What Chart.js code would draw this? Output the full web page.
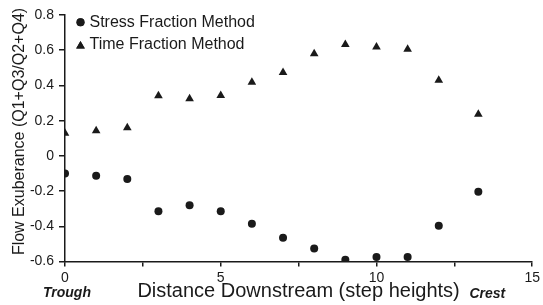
<!DOCTYPE html>
<html><head><meta charset="utf-8">
<script src="https://cdn.jsdelivr.net/npm/chart.js@4/dist/chart.umd.min.js"></script>
<style>html,body{margin:0;padding:0;background:#fff}#w{width:543px;height:305px}</style>
</head><body><div id="w"><canvas id="c"></canvas></div>
<script>
const distance = [0,1,2,3,4,5,6,7,8,9,10,11,12,13.27];
const stressFraction = [-0.10,-0.113,-0.132,-0.314,-0.281,-0.314,-0.386,-0.465,-0.526,-0.59,-0.575,-0.575,-0.397,-0.204];
const timeFraction = [0.128,0.143,0.16,0.342,0.324,0.343,0.418,0.474,0.58,0.633,0.618,0.605,0.43,0.236];
const seriesLabels = ['Stress Fraction Method','Time Fraction Method'];
const xTitle = 'Distance Downstream (step heights)';
const yTitle = 'Flow Exuberance (Q1+Q3/Q2+Q4)';
const endLabels = ['Trough','Crest'];
const endLabelX = [0,13.27];

const ink = '#1a1a1a';
const FONT = 'Liberation Sans, Arial, sans-serif';
const toPts = ys => distance.map((x,i)=>({x, y: ys[i]}));

const overlay = {
  id:'overlay',
  afterDraw(chart){
    const ctx = chart.ctx, xs = chart.scales.x;
    ctx.save();
    // legend
    const items = [{style:'circle', r:4},{style:'triangle', r:5}];
    ctx.font = '16px ' + FONT;
    ctx.textBaseline = 'middle';
    items.forEach((it,i)=>{
      const y = 22.3 + i*22.7, x = 80.5;
      ctx.fillStyle = ink;
      Chart.helpers.drawPoint(ctx,{pointStyle:it.style, radius: it.r, borderWidth:0}, x, it.style==='triangle'? y+1 : y);
      ctx.fill();
      ctx.fillText(seriesLabels[i], 89.5, y);
    });
    // y title
    ctx.save();
    ctx.translate(23.5, 131.5);
    ctx.rotate(-Math.PI/2);
    ctx.textAlign = 'center';
    ctx.textBaseline = 'alphabetic';
    ctx.font = '16px ' + FONT;
    ctx.fillText(yTitle, 0, 0);
    ctx.restore();
    // end labels
    ctx.font = 'italic bold 14px ' + FONT;
    ctx.textAlign = 'center';
    ctx.textBaseline = 'alphabetic';
    ctx.fillText(endLabels[0], xs.getPixelForValue(endLabelX[0]) + 2, 297);
    ctx.fillText(endLabels[1], xs.getPixelForValue(endLabelX[1]) + 9, 297.5);
    ctx.restore();
  }
};

new Chart(document.getElementById('c'), {
  type:'scatter',
  data:{datasets:[
    {label:seriesLabels[0], data:toPts(stressFraction), pointStyle:'circle', pointRadius:4, backgroundColor:ink, borderColor:ink, borderWidth:0},
    {label:seriesLabels[1], data:toPts(timeFraction), pointStyle:'triangle', pointRadius:5, backgroundColor:ink, borderColor:ink, borderWidth:0}
  ]},
  options:{
    responsive:true, maintainAspectRatio:false, animation:false,
    layout:{padding:{left:0,right:8,top:15,bottom:0}},
    plugins:{legend:{display:false}, tooltip:{enabled:false}},
    scales:{
      x:{type:'linear', min:0, max:15,
        afterFit(s){ s.height = 43.5; },
        border:{display:true,color:ink,width:1.5},
        grid:{display:true,drawOnChartArea:false,drawTicks:true,tickLength:5,color:ink,lineWidth:1.5},
        ticks:{stepSize:2.5, autoSkip:false, maxRotation:0, padding:3, color:ink, font:{family:FONT,size:14},
          callback:v => (Math.abs(v % 5) < 1e-9 ? String(v) : '')},
        title:{display:true, text:xTitle, color:ink, font:{family:FONT,size:20}, padding:{top:0,bottom:2}}
      },
      y:{type:'linear', min:-0.6, max:0.8,
        afterFit(s){ s.width = 65; },
        border:{display:true,color:ink,width:1.5},
        grid:{display:true,drawOnChartArea:false,drawTicks:true,tickLength:6,color:ink,lineWidth:1.5},
        ticks:{stepSize:0.2, padding:5, color:ink, font:{family:FONT,size:14},
          callback:v => { const r = Math.round(v*10)/10; return r===0 ? '0' : r.toFixed(1); }},
        title:{display:false}
      }
    }
  },
  plugins:[overlay]
});
</script>
</body></html>
